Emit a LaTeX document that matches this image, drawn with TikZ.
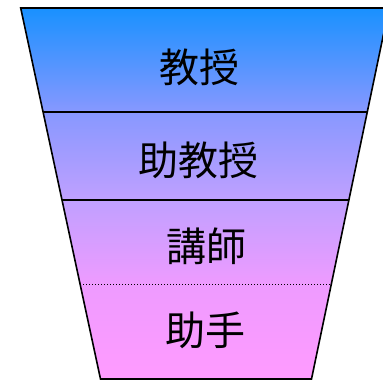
\documentclass[tikz,border=0pt]{standalone}
\usepackage{fontspec}
\newfontfamily\cjk{Noto Sans CJK JP}
\usetikzlibrary{calc}
\pgfdeclareverticalshading{ladder}{100bp}{
  color(0bp)=(rgb,255:red,255;green,155;blue,255);
  color(25bp)=(rgb,255:red,255;green,155;blue,255);
  color(37.8bp)=(rgb,255:red,238;green,155;blue,255);
  color(49.1bp)=(rgb,255:red,192;green,160;blue,255);
  color(61bp)=(rgb,255:red,135;green,152;blue,255);
  color(75bp)=(rgb,255:red,25;green,145;blue,255);
  color(100bp)=(rgb,255:red,25;green,145;blue,255)}
\tikzset{
  rank/.style={font=\cjk\fontsize{40}{40}\selectfont, inner sep=0pt, text=black},
  divider/.style={draw=black, line width=1.1pt},
  dotdivider/.style={draw=black, line width=0.9pt, dash pattern=on 1.2pt off 1.8pt},
  outline/.style={draw=black, line width=1.6pt, line join=miter}
}
\begin{document}
\begin{tikzpicture}[x=1pt,y=-1pt]
  \useasboundingbox (0,0) rectangle (383,381);
  \clip (0,0) rectangle (383,381);
  \coordinate (TL) at (20.7,8);
  \coordinate (TR) at (389,8);
  \coordinate (BR) at (311.5,379);
  \coordinate (BL) at (100.5,379);
  \shade[shading=ladder] (TL) -- (TR) -- (BR) -- (BL) -- cycle;
  \coordinate (L1) at ($(TL)!0.2803!(BL)$);
  \coordinate (R1) at ($(TR)!0.2803!(BR)$);
  \coordinate (L2) at ($(TL)!0.5175!(BL)$);
  \coordinate (R2) at ($(TR)!0.5175!(BR)$);
  \coordinate (L3) at ($(TL)!0.7439!(BL)$);
  \coordinate (R3) at ($(TR)!0.7439!(BR)$);
  \draw[divider] (L1) -- (R1);
  \draw[divider] (L2) -- (R2);
  \draw[dotdivider] (L3) -- (R3);
  \draw[outline] (TL) -- (TR) -- (BR) -- (BL) -- cycle;
  \node[rank] (prof) at (199,67.5) {教授};
  \node[rank] (assoc) at (198,160.5) {助教授};
  \node[rank] (lect) at (206,246) {講師};
  \node[rank] (asst) at (205,330) {助手};
\end{tikzpicture}
\end{document}
